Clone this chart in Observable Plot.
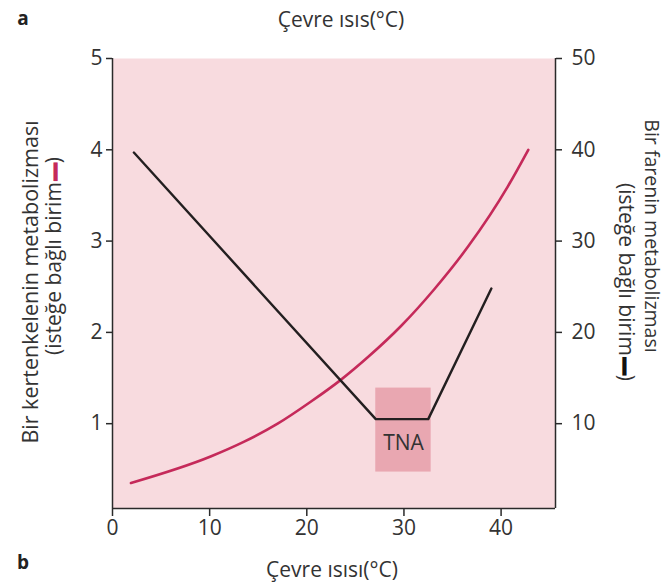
<!DOCTYPE html>
<html><head><meta charset="utf-8">
<script src="https://cdn.jsdelivr.net/npm/d3@7"></script>
<script src="https://cdn.jsdelivr.net/npm/@observablehq/plot@0.6"></script>
<style>body{margin:0;background:#fff} svg{display:block}</style>
</head><body><div id="chart"></div>
<script>
// Lizard metabolism (left axis, red curve)
const lizardTemp = [1.9, 10.1, 13.5, 17.0, 20.4, 23.5, 26.3, 29.7, 33.1, 36.6, 40.7, 42.8];
const lizardMet  = [0.35, 0.64, 0.80, 1.00, 1.24, 1.48, 1.73, 2.07, 2.47, 2.94, 3.60, 4.00];
// Rat metabolism (right axis, black line)
const ratTemp = [2.2, 27.1, 32.5, 39.0];
const ratMet  = [39.7, 10.5, 10.5, 24.8];
// Thermoneutral zone (TNA)
const tnaTemp = [27.1, 32.8];
const tnaMet  = [0.47, 1.39];
const tnaLabel = ["TNA"];
// Ticks
const xTicks = [0, 10, 20, 30, 40];
const leftTicks = [1, 2, 3, 4, 5];
const rightTicks = [10, 20, 30, 40, 50];
const xDomain = [0, 45.6];
const yDomain = [0.071, 5];

const lizard = lizardTemp.map((t, i) => ({t, m: lizardMet[i]}));
const rat = ratTemp.map((t, i) => ({t, m: ratMet[i] / 10}));
const tna = [{x1: tnaTemp[0], x2: tnaTemp[1], y1: tnaMet[0], y2: tnaMet[1]}];

const font = "'Open Sans', 'Noto Sans', 'DejaVu Sans', sans-serif";
const ink = "#2a2a2a";
const txt = "#333";
const red = "#c52a5a";

const plot = Plot.plot({
  width: 667, height: 585,
  marginTop: 58, marginBottom: 77, marginLeft: 112, marginRight: 112,
  style: {fontFamily: font, fontSize: "21px", color: txt, background: "#fff", overflow: "visible"},
  x: {domain: xDomain},
  y: {domain: yDomain},
  marks: [
    Plot.frame({fill: "#f8dbdf", stroke: null}),
    Plot.rect(tna, {x1: "x1", x2: "x2", y1: "y1", y2: "y2", fill: "#e9a7b1"}),
    Plot.text(tnaLabel, {x: (tnaTemp[0] + tnaTemp[1]) / 2, y: 0.79, text: d => d, fontSize: 21, fill: txt}),
    Plot.line(lizard, {x: "t", y: "m", stroke: red, strokeWidth: 2.6, curve: "monotone-x"}),
    Plot.line(rat, {x: "t", y: "m", stroke: "#231f20", strokeWidth: 2.4}),
    Plot.ruleX([xDomain[0]], {stroke: ink, strokeWidth: 1.5}),
    Plot.ruleX([xDomain[1]], {stroke: ink, strokeWidth: 1.5}),
    Plot.ruleY([yDomain[0]], {stroke: ink, strokeWidth: 1.5}),
    Plot.axisX({ticks: xTicks, tickFormat: d => String(d), tickSize: 8, tickPadding: 4, label: null, stroke: ink, strokeWidth: 1.5}),
    Plot.axisY({anchor: "left", ticks: leftTicks, tickFormat: d => String(d), tickSize: 6, tickPadding: 4, label: null, stroke: ink, strokeWidth: 1.5}),
    Plot.axisY({anchor: "right", ticks: rightTicks.map(v => v / 10), tickFormat: d => String(Math.round(d * 10)),
      tickSize: 6, tickPadding: 10, label: null, stroke: ink, strokeWidth: 1.5}),
    Plot.text(["Çevre ısıs(°C)"], {frameAnchor: "top", lineAnchor: "middle", dx: 7, dy: -38, fontSize: 21, fill: txt}),
    Plot.text(["Çevre ısısı(°C)"], {frameAnchor: "bottom", lineAnchor: "middle", dx: -2, dy: 62, fontSize: 21, fill: txt})
  ]
});

const svg = d3.select(plot);
function label(x, y, rot, parts, opts = {}) {
  const t = svg.append("text")
    .attr("transform", `translate(${x},${y}) rotate(${rot})`)
    .attr("text-anchor", "middle")
    .attr("dominant-baseline", "middle")
    .attr("font-family", font)
    .attr("font-size", opts.size || 21)
    .attr("font-weight", opts.weight || "normal")
    .attr("fill", txt);
  parts.forEach(([s, c, bar]) => {
    const sp = t.append("tspan").text(s).attr("fill", c || txt);
    if (bar) sp.attr("stroke", c).attr("stroke-width", 3).attr("font-size", 17).attr("dx", 2);
  });
}
label(32, 282, -90, [["Bir kertenkelenin metabolizması"]], {size: 21.5});
label(55, 256, -90, [["(isteğe bağlı birim"], ["—", red, true], [")"]], {size: 21});
label(650, 236, 90, [["Bir farenin metabolizması"]], {size: 19.5});
label(625, 282, 90, [["(isteğe bağlı birim"], ["—", "#111", true], [")"]], {size: 21});
label(23, 20, 0, [["a", "#222"]], {weight: "bold", size: 19});
label(23, 564, 0, [["b", "#222"]], {weight: "bold", size: 19});

document.getElementById("chart").appendChild(plot);
</script>
</body></html>
